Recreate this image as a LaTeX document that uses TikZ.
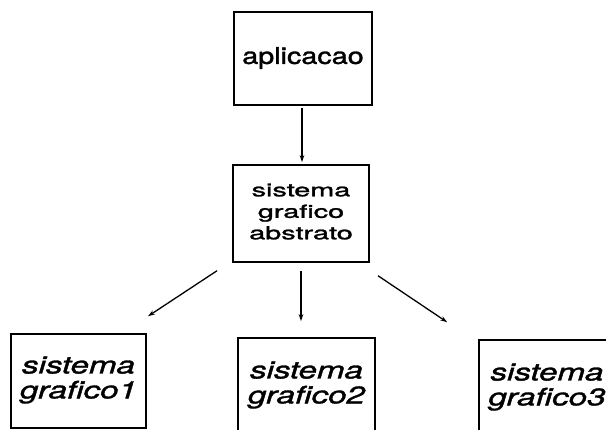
\documentclass[tikz,border=0pt]{standalone}
\usepackage{fontspec}
\setmainfont{TeX Gyre Heros}[FakeBold=1.3]
\usepackage{graphicx}
\usetikzlibrary{arrows.meta}
\newcommand\sxt[2]{\scalebox{#1}[1]{\begin{tabular}{@{}c@{}}#2\end{tabular}}}
\begin{document}
\begin{tikzpicture}[x=1pt,y=1pt,
  box/.style={draw, line width=1.5pt, inner sep=0pt},
  arr/.style={line width=1.3pt, -{Stealth[length=7pt,width=4.5pt]}},
  up/.style={font=\fontsize{18}{21.5}\selectfont},
  ital/.style={font=\fontsize{24}{24.5}\selectfont\itshape}]
\clip (0,0) rectangle (606,430);
\fill[white] (0,0) rectangle (606,430);
\node[box, minimum width=138pt, minimum height=93pt, font=\fontsize{23}{27}\selectfont] (A) at (303,371.5) {\sxt{1.25}{aplicacao}};
\node[box, up, minimum width=136pt, minimum height=97pt] (B) at (301,216.5) {\sxt{1.6}{sistema\\grafico\\abstrato}};
\node[box, ital, minimum width=135pt, minimum height=94pt] (C1) at (78.5,49) {\sxt{1.38}{sistema\\grafico1}};
\node[box, ital, minimum width=137pt, minimum height=96pt] (C2) at (306.5,44) {\sxt{1.38}{sistema\\grafico2}};
\node[box, ital, minimum width=136pt, minimum height=96pt] (C3) at (547,42) {\sxt{1.38}{sistema\\grafico3}};
\draw[arr] ([shift={(-1pt,-2pt)}]A.south) -- ([shift={(1pt,2pt)}]B.north);
\draw[arr] ([shift={(-84pt,-8pt)}]B.south) -- ([shift={(69.5pt,17pt)}]C1.north);
\draw[arr] ([yshift=-8pt]B.south) -- ([shift={(-5.5pt,16pt)}]C2.north);
\draw[arr] ([shift={(77pt,-13pt)}]B.south) -- ([shift={(-31pt,17pt)}]C3.north west);
\end{tikzpicture}
\end{document}
